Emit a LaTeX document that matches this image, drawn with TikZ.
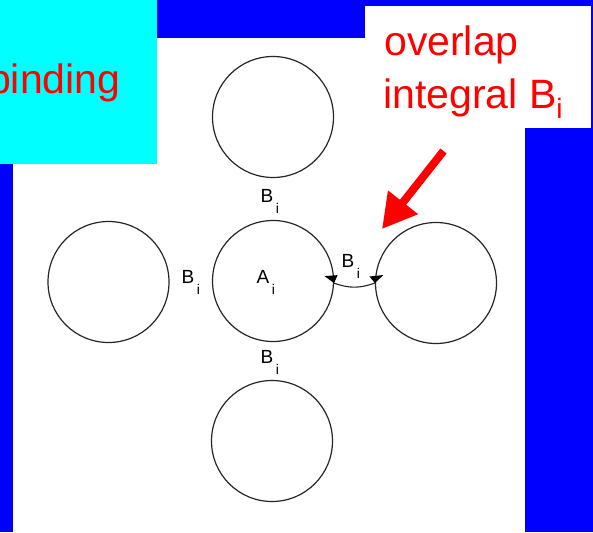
\documentclass[tikz,border=0pt]{standalone}
\usepackage{fontspec}
\setmainfont{Liberation Sans}
\usetikzlibrary{arrows.meta}
\definecolor{bgblue}{RGB}{0,0,255}
\definecolor{boxcyan}{RGB}{0,255,255}
\definecolor{txtred}{RGB}{255,0,0}
\newcommand{\subi}{\kern2.5pt\raisebox{-11pt}{\fontsize{14}{14}\selectfont i}}
\newcommand{\bigsubi}{\raisebox{-10pt}{\fontsize{28}{28}\selectfont i}}
\begin{document}
\begin{tikzpicture}[x=1pt,y=-1pt,
  circ/.style={circle,draw=black!85,line width=1.2pt,minimum size=121pt,inner sep=0pt},
  lab/.style={anchor=base west,inner sep=0pt,font=\fontsize{19}{19}\selectfont},
  big/.style={anchor=base west,inner sep=0pt,text=txtred,font=\fontsize{41}{41}\selectfont},
  tri/.style={fill=black}]
\useasboundingbox (0,0) rectangle (593,532);
\clip (0,0) rectangle (593,532);
% backgrounds
\fill[bgblue] (0,0) rectangle (593,532);
\fill[white] (13,38) rectangle (525,532);
\fill[white] (365,6) rectangle (591,128);
\fill[boxcyan] (0,0) rectangle (157,164);
% red texts
\node[big] (bind) at (-12,93) {binding};
\node[big] (ov1) at (384,56) {overlap};
\node[big] (ov2) at (383,108) {integral B\bigsubi};
% circles
\node[circ] (T) at (273,117) {};
\node[circ] (L) at (108.5,282) {};
\node[circ] (C) at (273,281) {};
\node[circ] (R) at (436,283) {};
\node[circ] (D) at (272,441) {};
% labels
\node[lab] (bt) at (260.5,202) {B\subi};
\node[lab] (bl) at (181.5,283) {B\subi};
\node[lab] (ai) at (256.5,283) {A\subi};
\node[lab] (bb) at (260.5,363) {B\subi};
\node[lab] (br) at (341.5,267) {B\subi};
% overlap arc with heads
\draw[black!85,line width=1.1pt] (C.-2) to[bend right=20] (R.180);
\fill[tri] (C.-2) -- ++(-9.5,-7) -- ++(13,-1) -- cycle;
\fill[tri] (R.180) -- ++(-5.5,-6.5) -- ++(14,-1.5) -- cycle;
% red arrow
\coordinate (atail) at (443.5,151);
\coordinate (atip) at (382,229);
\draw[txtred,line width=8pt,-{Triangle[length=34pt,width=36pt]}] (atail) -- (atip);
\end{tikzpicture}
\end{document}
